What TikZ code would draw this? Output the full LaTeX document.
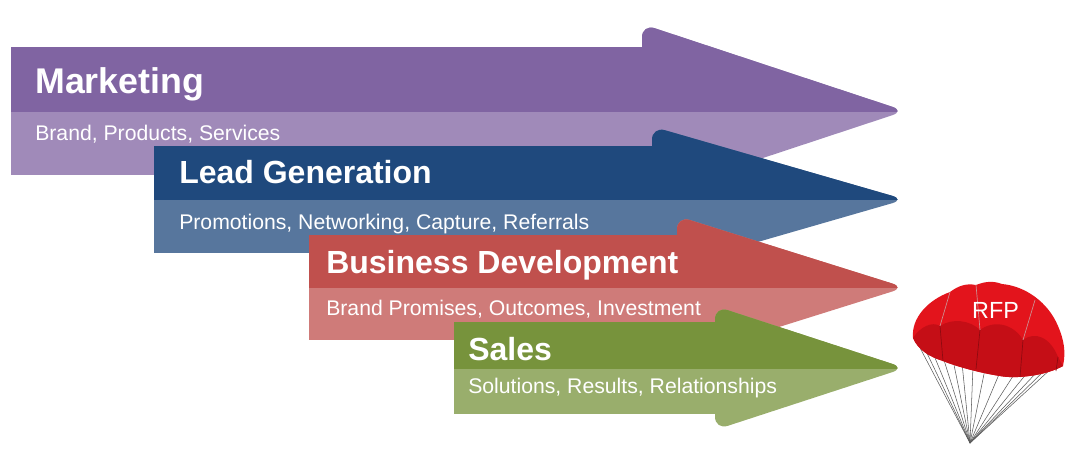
\documentclass[tikz,border=0pt]{standalone}
\usepackage{fontspec}
\setmainfont{Liberation Sans}
\definecolor{mktdark}{HTML}{8064A2}
\definecolor{mktlight}{HTML}{A08AB9}
\definecolor{leaddark}{HTML}{1F497D}
\definecolor{leadlight}{HTML}{57769D}
\definecolor{bizdark}{HTML}{C0504D}
\definecolor{bizlight}{HTML}{CF7B79}
\definecolor{salesdark}{HTML}{77933C}
\definecolor{saleslight}{HTML}{99AE6C}
\definecolor{canopytop}{HTML}{E3141C}
\definecolor{canopyband}{HTML}{C50E16}
\definecolor{canopyseam}{HTML}{8E0A10}

\begin{document}
\begin{tikzpicture}[x=0.75pt, y=-0.75pt]
% Define styles
\tikzstyle{title} = [anchor=base west, text=white, inner sep=0pt,
    font=\bfseries\fontsize{24}{24}\selectfont]
\tikzstyle{bigtitle} = [title, font=\bfseries\fontsize{26.8}{28}\selectfont]
\tikzstyle{subtitle} = [anchor=base west, text=white, inner sep=0pt,
    font=\fontsize{15.9}{16}\selectfont]
\tikzstyle{rfp} = [anchor=base, text=white, inner sep=0pt,
    font=\fontsize{17.5}{18}\selectfont]
\tikzstyle{cord} = [draw=black!65, line width=0.4pt]
\tikzstyle{seam} = [draw=canopyseam, line width=0.5pt]

\useasboundingbox (0,0) rectangle (1078,464);

% Draw arrows: left/top/bottom/head back/head half height/colours
\foreach \xl/\yt/\yb/\xh/\hh/\cd/\cl in {11/47/175/642/87/mktdark/mktlight,
    154/146/253/652/73/leaddark/leadlight, 309/235/340/677/71.5/bizdark/bizlight,
    454/322/414/715/62/salesdark/saleslight}{
  \pgfmathsetmacro\yc{(\yt+\yb)/2}
  \fill[\cl] (\xl,\yt) rectangle (\xh+3,\yb);
  \fill[\cl, rounded corners=10] (\xh,\yc-\hh) -- (905,\yc) -- (\xh,\yc+\hh) -- cycle;
  \begin{scope}
    \clip (\xl-2,\yc-\hh-12) rectangle (910,\yc);
    \fill[\cd] (\xl,\yt) rectangle (\xh+3,\yb);
    \fill[\cd, rounded corners=10] (\xh,\yc-\hh) -- (905,\yc) -- (\xh,\yc+\hh) -- cycle;
  \end{scope}
}

% Place labels
\node[bigtitle] (mkt) at (35,93) {Marketing};
\node[subtitle] (mktsub) at (35,140) {Brand, Products, Services};
\node[title] (lead) at (179,183) {Lead Generation};
\node[subtitle] (leadsub) at (179,229) {Promotions, Networking, Capture, Referrals};
\node[title] (biz) at (326,273) {Business Development};
\node[subtitle] (bizsub) at (326,315) {Brand Promises, Outcomes, Investment};
\node[title] (sales) at (468,360) {Sales};
\node[subtitle] (salessub) at (468,393) {Solutions, Results, Relationships};

% Parachute
\coordinate (apex) at (970,443);
\foreach \x/\y in {918/344, 925/349, 933/353, 943/357, 953/360, 962/363, 973/366,
    985/369, 1000/372, 1015/373, 1027/373, 1037/372, 1045/370, 1053/367}
  \draw[cord] (apex) -- (\x,\y);
\fill[canopytop] (913,338) .. controls (911,318) and (928,300) .. (950,292)
  .. controls (958,286) and (966,283) .. (976,285)
  .. controls (986,281) and (994,281) .. (1002,284)
  .. controls (1025,286) and (1048,302) .. (1058,326)
  .. controls (1064,340) and (1066,352) .. (1063,366)
  .. controls (1045,376) and (1015,379) .. (1000,376)
  .. controls (980,373) and (955,366) .. (943,361)
  .. controls (930,357) and (918,350) .. (913,338) -- cycle;
\fill[canopyband] (913,338) .. controls (920,327) and (932,321) .. (940,326)
  .. controls (952,318) and (970,320) .. (980,330)
  .. controls (993,320) and (1013,323) .. (1023,340)
  .. controls (1035,331) and (1050,337) .. (1058,357) -- (1063,366)
  .. controls (1045,376) and (1015,379) .. (1000,376)
  .. controls (980,373) and (955,366) .. (943,361)
  .. controls (930,357) and (918,350) .. (913,338) -- cycle;
\draw[seam] (940,326) -- (943,361);
\draw[seam] (980,330) -- (976,369);
\draw[seam] (1023,340) -- (1020,377);
\draw[seam] (1058,357) -- (1056,371);
\draw[seam, canopyseam!45] (950,292) -- (940,326);
\draw[seam, canopyseam!45] (976,285) -- (980,330);
\draw[seam, canopyseam!45] (1035,300) -- (1023,340);
\node[rfp] (rfp) at (995.5,318) {RFP};
\end{tikzpicture}
\end{document}
